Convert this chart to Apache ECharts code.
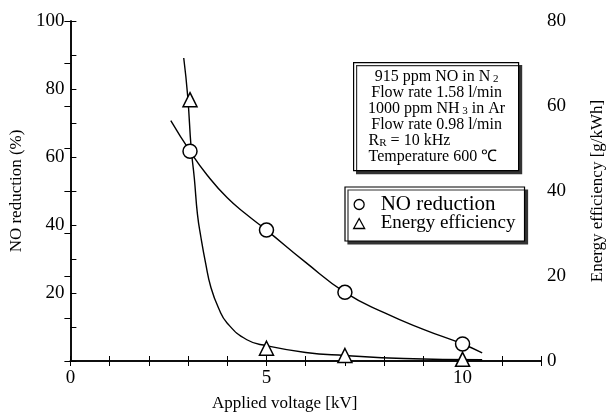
<!DOCTYPE html>
<html>
<head>
<meta charset="utf-8">
<script src="https://cdn.jsdelivr.net/npm/echarts@6/dist/echarts.min.js"></script>
<style>
  html, body { margin: 0; padding: 0; background: #fff; }
  #chart { width: 614px; height: 417px; }
</style>
</head>
<body>
<div id="chart"></div>
<script>
// measured points
const voltage = [3.05, 5, 7, 10];
const noReduction = [61.7, 38.5, 20.2, 5.0];
const energyEff = [61.5, 3.0, 1.3, 0.4];

// fitted curves
const noCurveX = [2.56, 3.05, 3.5, 4.0, 4.5, 5.0, 6.0, 7.0, 8.0, 9.0, 10.0, 10.5];
const noCurveY = [70.7, 61.7, 54.5, 48.0, 43.0, 38.5, 29.0, 20.2, 14.2, 9.3, 5.0, 2.4];
const effCurveX = [2.89, 2.99, 3.08, 3.16, 3.24, 3.33, 3.45, 3.58, 3.78, 4.0, 4.5, 5.0, 6.0, 7.0, 8.5, 10.5];
const effCurveY = [71.3, 62.4, 50.0, 43.0, 34.5, 29.0, 22.9, 17.4, 12.4, 8.9, 5.0, 3.6, 2.0, 1.3, 0.6, 0.3];

const xLabels = [0, 5, 10];
const serif = 'Liberation Serif';

const pairs = (xs, ys) => xs.map((x, i) => [x, ys[i]]);

const chart = echarts.init(document.getElementById('chart'));
chart.setOption({
  animation: false,
  backgroundColor: '#fff',
  textStyle: { fontFamily: serif, color: '#000' },
  grid: { left: 69, right: 68, top: 21, bottom: 52 },
  xAxis: [{
    type: 'value', min: 0, max: 12, interval: 1,
    name: 'Applied voltage [kV]', nameLocation: 'middle', nameGap: 34,
    nameTextStyle: { fontFamily: serif, fontSize: 17, color: '#000', padding: [0, 42, 0, 0] },
    axisLine: { lineStyle: { color: '#000', width: 1.5 } },
    axisTick: { inside: true, length: 5, lineStyle: { color: '#000' } },
    axisLabel: {
      fontFamily: serif, fontSize: 19, color: '#000', margin: 8,
      formatter: v => xLabels.includes(v) ? String(v) : ''
    },
    splitLine: { show: false }
  }, {
    type: 'value', min: 0, max: 12, interval: 1, position: 'top',
    axisLine: { lineStyle: { color: '#000', width: 1.5 } },
    axisTick: { inside: true, length: 5, lineStyle: { color: '#000' } },
    axisLabel: { show: false },
    splitLine: { show: false }
  }],
  yAxis: [{
    type: 'value', min: 0, max: 100, interval: 20,
    name: 'NO reduction (%)', nameLocation: 'middle', nameGap: 42,
    nameTextStyle: { fontFamily: serif, fontSize: 17, color: '#000' },
    axisLine: { show: true, lineStyle: { color: '#000', width: 1.5 } },
    axisTick: { show: true, inside: true, length: 6, lineStyle: { color: '#000' } },
    minorTick: { show: true, splitNumber: 2, length: 6, lineStyle: { color: '#000' } },
    axisLabel: {
      fontFamily: serif, fontSize: 19, color: '#000', margin: 6,
      formatter: v => v === 0 ? '' : String(v)
    },
    splitLine: { show: false }
  }, {
    type: 'value', min: 0, max: 80, interval: 20, position: 'right',
    name: 'Energy efficiency [g/kWh]', nameLocation: 'middle', nameGap: 48,
    nameRotate: 90,
    nameTextStyle: { fontFamily: serif, fontSize: 17, color: '#000' },
    axisLine: { show: true, lineStyle: { color: '#000', width: 1.5 } },
    axisTick: { show: true, inside: true, length: 6, lineStyle: { color: '#000' } },
    minorTick: { show: true, splitNumber: 2, length: 6, lineStyle: { color: '#000' } },
    axisLabel: { fontFamily: serif, fontSize: 19, color: '#000', margin: 6 },
    splitLine: { show: false }
  }],
  legend: {
    left: 345, top: 187,
    orient: 'vertical',
    itemGap: -1, itemWidth: 11, itemHeight: 10,
    padding: [7, 9, 8, 8],
    backgroundColor: '#fff',
    borderColor: '#000', borderWidth: 1.2, borderRadius: 0,
    shadowColor: '#333', shadowOffsetX: 3, shadowOffsetY: 3, shadowBlur: 0,
    formatter: name => name === 'NO reduction' ? '{a|' + name + '}' : '{b|' + name + '}',
    textStyle: {
      fontFamily: serif, color: '#000', padding: [0, 0, 0, 11],
      rich: {
        a: { fontFamily: serif, fontSize: 21, color: '#000' },
        b: { fontFamily: serif, fontSize: 19, color: '#000' }
      }
    },
    data: [
      { name: 'NO reduction', icon: 'circle', itemStyle: { color: '#fff', borderColor: '#000', borderWidth: 1.3, opacity: 1 } },
      { name: 'Energy efficiency', icon: 'triangle', itemStyle: { color: '#fff', borderColor: '#000', borderWidth: 1.3, opacity: 1 } }
    ]
  },
  graphic: [{
    type: 'group', left: 353, top: 62,
    children: [{
      type: 'rect', shape: { x: 0, y: 0, width: 165, height: 108 },
      style: { fill: '#fff', stroke: '#000', lineWidth: 1.2, shadowColor: '#333', shadowOffsetX: 3, shadowOffsetY: 3 }
    }, {
      type: 'text', x: 83, y: 6,
      style: {
        text: '915 ppm NO in N{s| 2}\nFlow rate 1.58 l/min\n1000 ppm NH{s| 3} in Ar\nFlow rate 0.98 l/min',
        align: 'center', fontFamily: serif, fontSize: 16, lineHeight: 16, fill: '#000',
        rich: { s: { fontFamily: serif, fontSize: 11, lineHeight: 10, verticalAlign: 'bottom' } }
      }
    }, {
      type: 'text', x: 15, y: 70,
      style: {
        text: 'R{s|R} = 10 kHz\nTemperature 600 ℃',
        fontFamily: serif, fontSize: 16, lineHeight: 16, fill: '#000',
        rich: { s: { fontFamily: serif, fontSize: 11, lineHeight: 10, verticalAlign: 'bottom' } }
      }
    }]
  }],
  series: [{
    name: 'NO reduction curve', type: 'line', smooth: true, symbol: 'none',
    lineStyle: { color: '#000', width: 1.4 }, z: 2,
    data: pairs(noCurveX, noCurveY)
  }, {
    name: 'Energy efficiency curve', type: 'line', smooth: true, symbol: 'none', yAxisIndex: 1,
    lineStyle: { color: '#000', width: 1.4 }, z: 2,
    data: pairs(effCurveX, effCurveY)
  }, {
    name: 'NO reduction', type: 'scatter', symbol: 'circle', symbolSize: 14,
    itemStyle: { color: '#fff', borderColor: '#000', borderWidth: 1.5, opacity: 1 }, z: 3,
    data: pairs(voltage, noReduction)
  }, {
    name: 'Energy efficiency', type: 'scatter', symbol: 'triangle', symbolSize: 14, yAxisIndex: 1,
    itemStyle: { color: '#fff', borderColor: '#000', borderWidth: 1.5, opacity: 1 }, z: 3,
    data: pairs(voltage, energyEff)
  }]
});
</script>
</body>
</html>
